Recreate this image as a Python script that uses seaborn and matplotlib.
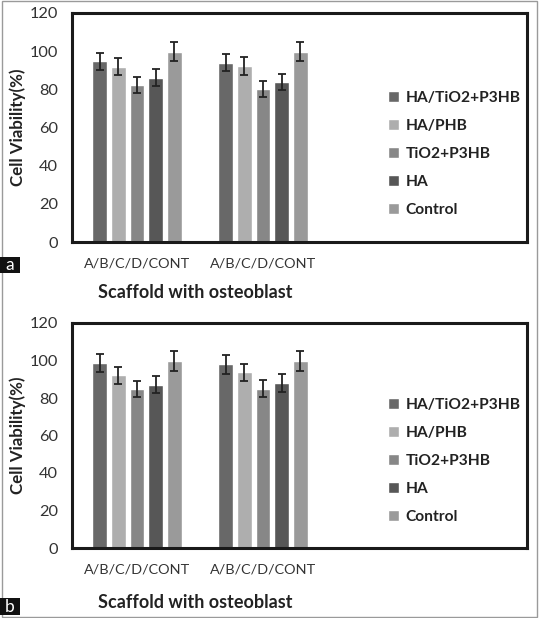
import matplotlib
matplotlib.use("Agg")
import matplotlib.pyplot as plt
import seaborn as sns
import pandas as pd
from matplotlib.patches import Rectangle

sns.set_theme(style="white")
plt.rcParams['font.family'] = ['Lato', 'DejaVu Sans']

series = ["HA/TiO2+P3HB", "HA/PHB", "TiO2+P3HB", "HA", "Control"]
groups = ["g1", "g2"]
tick_labels = ["A/B/C/D/CONT", "A/B/C/D/CONT"]
colors = ["#686868", "#aeaeae", "#878787", "#575757", "#9a9a9a"]

# Panel a
a_ha_tio2_p3hb = [94.6, 94.0]
a_ha_phb = [91.9, 92.3]
a_tio2_p3hb = [82.1, 80.0]
a_ha = [86.2, 83.7]
a_control = [99.8, 99.8]
a_err_ha_tio2_p3hb = [4.7, 4.6]
a_err_ha_phb = [4.4, 4.7]
a_err_tio2_p3hb = [4.2, 4.2]
a_err_ha = [4.2, 4.2]
a_err_control = [4.9, 4.9]

# Panel b
b_ha_tio2_p3hb = [98.8, 97.9]
b_ha_phb = [92.2, 93.8]
b_tio2_p3hb = [84.8, 84.9]
b_ha = [87.2, 88.1]
b_control = [99.8, 99.8]
b_err_ha_tio2_p3hb = [4.9, 5.1]
b_err_ha_phb = [4.6, 4.6]
b_err_tio2_p3hb = [4.4, 4.5]
b_err_ha = [4.6, 4.8]
b_err_control = [5.2, 5.2]

yticks = [0, 20, 40, 60, 80, 100, 120]

panels = [
    ("a", [a_ha_tio2_p3hb, a_ha_phb, a_tio2_p3hb, a_ha, a_control],
     [a_err_ha_tio2_p3hb, a_err_ha_phb, a_err_tio2_p3hb, a_err_ha, a_err_control]),
    ("b", [b_ha_tio2_p3hb, b_ha_phb, b_tio2_p3hb, b_ha, b_control],
     [b_err_ha_tio2_p3hb, b_err_ha_phb, b_err_tio2_p3hb, b_err_ha, b_err_control]),
]

W, H = 539, 618
fig = plt.figure(figsize=(W / 100, H / 100), dpi=100)

# axes boxes in pixels: (left, top, right, bottom)
boxes = [(72, 13, 527, 242), (72, 323, 527, 548)]
xlabel_y = [293, 602]
label_boxes = [(0, 257, 20, 16), (0, 598, 20, 17)]

for (name, means, errs), (l, t, r, b), xly, (lx, ly, lw, lh) in zip(panels, boxes, xlabel_y, label_boxes):
    ax = fig.add_axes([l / W, 1 - b / H, (r - l) / W, (b - t) / H])
    rows = []
    for s, vals in zip(series, means):
        for g, v in zip(groups, vals):
            rows.append({"group": g, "series": s, "value": v})
    df = pd.DataFrame(rows)
    sns.barplot(data=df, x="group", y="value", hue="series", order=groups,
                hue_order=series, palette=colors, width=0.74, gap=0.2,
                errorbar=None, legend=False, ax=ax, saturation=1)
    for cont, e in zip(ax.containers, errs):
        xs = [p.get_x() + p.get_width() / 2 for p in cont]
        ys = [p.get_height() for p in cont]
        ax.errorbar(xs, ys, yerr=e, fmt="none", ecolor="#222222",
                    elinewidth=1.3, capsize=3.2, capthick=1.3, zorder=5)
    ax.set_xlim(-0.516, 3.095)
    ax.set_ylim(0, 120)
    ax.set_yticks(yticks)
    ax.set_yticklabels([str(v) for v in yticks], fontsize=11.8, color="#333333")
    ax.set_xticks(range(len(groups)))
    ax.set_xticklabels(tick_labels, fontsize=10.4, color="#333333")
    ax.tick_params(axis="y", length=0, pad=10)
    ax.tick_params(axis="x", length=0, pad=11.5)
    ax.set_ylabel("Cell Viability(%)", fontsize=12.2, fontweight="bold", color="#222222")
    ax.yaxis.set_label_coords(-0.119, 0.5)
    ax.yaxis.label.set_va("center")
    ax.set_xlabel("Scaffold with osteoblast", fontsize=13, fontweight="bold", color="#222222")
    ax.xaxis.set_label_coords(0.27, 1 - (xly - t) / (b - t))
    ax.xaxis.label.set_va("center")
    for sp in ax.spines.values():
        sp.set_visible(True)
        sp.set_color("#1a1a1a")
        sp.set_linewidth(2.2)
    ax.legend(ax.containers, series, loc="center left", bbox_to_anchor=(0.695, 0.385),
              frameon=False, handlelength=0.7, handleheight=0.7, handletextpad=0.4,
              labelspacing=0.9, borderpad=0, borderaxespad=0,
              prop={"family": "Lato", "weight": "bold", "size": 11.2})
    for txt in ax.get_legend().get_texts():
        txt.set_color("#222222")
    fig.patches.append(Rectangle((lx / W, 1 - (ly + lh) / H), lw / W, lh / H,
                                 transform=fig.transFigure, facecolor="#111111",
                                 edgecolor="none", zorder=10))
    fig.text((lx + lw / 2) / W, 1 - (ly + lh / 2) / H, name, fontsize=12.5, color="white",
             va="center", ha="center", zorder=11)

fig.patches.append(Rectangle((0.004, 0.001), 0.992, 0.998, transform=fig.transFigure,
                             fill=False, edgecolor="#9a9a9a", linewidth=1.0))

fig.savefig("out.png", dpi=100)
